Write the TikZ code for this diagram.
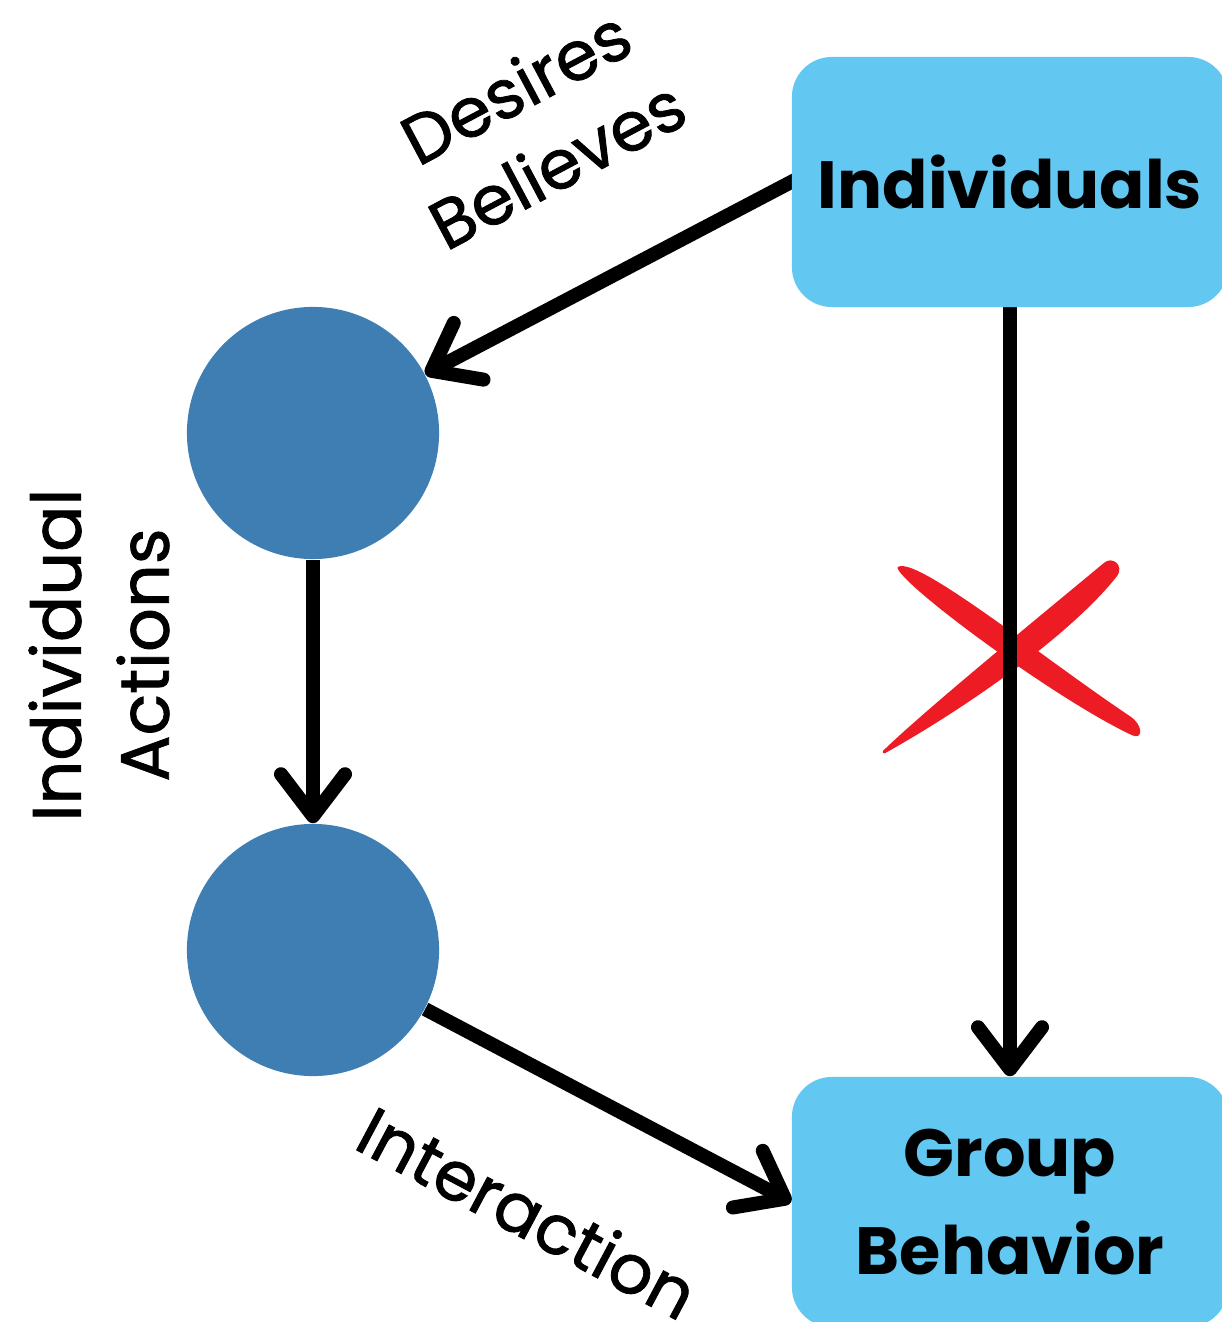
\documentclass[tikz,border=0pt]{standalone}
\usepackage{fontspec}
\setmainfont{Poppins}
\newfontfamily\lblfont{Poppins}[FakeBold=1.2]
\usetikzlibrary{arrows.meta}
\pgfdeclarelayer{fg}
\pgfsetlayers{main,fg}
\definecolor{boxblue}{HTML}{62C8F1}
\definecolor{circblue}{HTML}{3F7EB3}
\definecolor{xred}{HTML}{ED1C24}
\begin{document}
\begin{tikzpicture}[x=0.01cm,y=-0.01cm,
  boxnode/.style={fill=boxblue, rounded corners=0.4cm, minimum width=4.36cm, minimum height=2.5cm, inner sep=0pt, font=\fontsize{19}{28}\selectfont\bfseries, align=center},
  circnode/.style={circle, fill=circblue, minimum size=2.52cm, inner sep=0pt},
  conn/.style={line width=0.14cm, -{Straight Barb[length=0.42cm,width=0.64cm,round]}},
  lbl/.style={font=\lblfont\fontsize{19.5}{25}\selectfont, align=center, inner sep=0pt},
  xstroke/.style={fill=xred, draw=xred, line width=0.03cm, line join=round}]
\useasboundingbox (0,0) rectangle (1221,1322);
% nodes
\begin{pgfonlayer}{fg}
\node[boxnode] (indiv) at (1010,182) {Individuals};
\node[boxnode] (grp) at (1010,1202) {Group\\Behavior};
\end{pgfonlayer}
\node[circnode] (c1) at (313,433) {};
\node[circnode] (c2) at (313,950) {};
% red cross (brush strokes)
\filldraw[xstroke] (899,568) .. controls (910,590) and (1060,700) .. (1133,734)
  .. controls (1142,738) and (1140,725) .. (1130,718)
  .. controls (1050,665) and (920,560) .. (899,568) -- cycle;
\filldraw[xstroke] (884,752) .. controls (925,712) and (1040,618) .. (1105,564)
  .. controls (1112,558) and (1122,566) .. (1116,575)
  .. controls (1066,638) and (956,712) .. (884,752) -- cycle;
% connectors
\draw[conn, shorten <=-0.06cm] (indiv.west) -- (c1);
\draw[conn] (c1) -- (c2);
\draw[conn] (c2) -- (grp.west);
\draw[conn, shorten <=-0.06cm] (indiv) -- (grp);
% labels
\node[lbl, rotate=28] (db) at (536,125) {Desires\\Believes};
\node[lbl, rotate=90] (ia) at (99,655) {Individual\\Actions};
\node[lbl, rotate=-28] (inter) at (528,1212) {Interaction};
\end{tikzpicture}
\end{document}
